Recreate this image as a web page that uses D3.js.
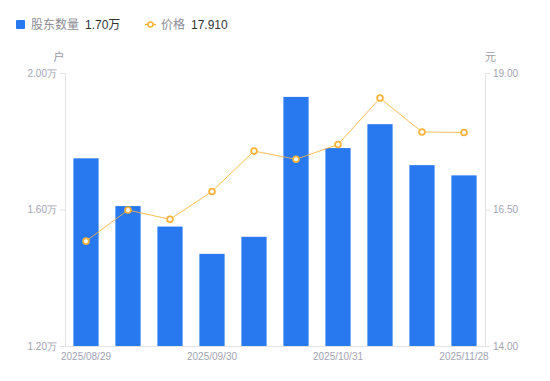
<!DOCTYPE html>
<html lang="zh">
<head>
<meta charset="UTF-8" />
<title>股东数量与价格</title>
<script src="https://cdn.jsdelivr.net/npm/d3@7"></script>
<style>
    html, body { margin: 0; padding: 0; background: #fff; }
    svg { display: block; font-family: "Liberation Sans", Arial, "Noto Sans CJK SC", sans-serif; }
</style>
</head>
<body>
<div id="chart"></div>
<script>
// data
const dates = ["2025/08/29", "2025/09/10", "2025/09/19", "2025/09/30", "2025/10/10",
               "2025/10/20", "2025/10/31", "2025/11/10", "2025/11/20", "2025/11/28"];
const holders = [1.75, 1.61, 1.55, 1.47, 1.52, 1.93, 1.78, 1.85, 1.73, 1.70];   // 万户
const prices = [15.92, 16.49, 16.32, 16.83, 17.57, 17.42, 17.69, 18.54, 17.92, 17.91];
const leftTicks = [1.2, 1.6, 2.0];
const rightTicks = [14, 16.5, 19];
const shownDates = ["2025/08/29", "2025/09/30", "2025/10/31", "2025/11/28"];

const width = 550, height = 381;
const margin = { top: 73, right: 65, bottom: 35, left: 65 };
const barColor = "#2878f0";
const lineColor = "#f8b33a";
const tickColor = "#a3a3b3";
const axisColor = "#e3e3e3";

const svg = d3.select("#chart").append("svg")
    .attr("width", width)
    .attr("height", height);

const x = d3.scaleBand()
    .domain(dates)
    .range([margin.left, width - margin.right])
    .paddingInner(0.4)
    .paddingOuter(0.2);

const yLeft = d3.scaleLinear().domain([1.2, 2.0]).range([height - margin.bottom, margin.top]);
const yRight = d3.scaleLinear().domain([14, 19]).range([height - margin.bottom, margin.top]);

// axes
const leftAxis = svg.append("g")
    .attr("transform", `translate(${margin.left},0)`)
    .call(d3.axisLeft(yLeft).tickValues(leftTicks).tickSize(5).tickPadding(3)
        .tickFormat(d => d3.format(".2f")(d) + "万"));

const rightAxis = svg.append("g")
    .attr("transform", `translate(${width - margin.right},0)`)
    .call(d3.axisRight(yRight).tickValues(rightTicks).tickSize(5).tickPadding(3)
        .tickFormat(d3.format(".2f")));

const bottomAxis = svg.append("g")
    .attr("transform", `translate(0,${height - margin.bottom})`)
    .call(d3.axisBottom(x).tickValues(shownDates).tickSize(0).tickPadding(7));

[leftAxis, rightAxis, bottomAxis].forEach(g => {
    g.selectAll("path, line").attr("stroke", axisColor);
    g.selectAll("text").attr("fill", tickColor).attr("font-size", 10);
});
bottomAxis.select(".domain").attr("d", `M${margin.left},0.5H${width - margin.right}`);

// unit labels
svg.append("text").attr("x", 59).attr("y", 61).attr("text-anchor", "middle")
    .attr("font-size", 11).attr("fill", "#9a9aa8").text("户");
svg.append("text").attr("x", 485).attr("y", 61)
    .attr("font-size", 11).attr("fill", "#9a9aa8").text("元");

// bars
svg.append("g").selectAll("rect")
    .data(holders)
    .join("rect")
    .attr("x", (d, i) => x(dates[i]))
    .attr("y", d => yLeft(d))
    .attr("width", x.bandwidth())
    .attr("height", d => yLeft(1.2) - yLeft(d))
    .attr("fill", barColor);

// price line
const line = d3.line()
    .x((d, i) => x(dates[i]) + x.bandwidth() / 2)
    .y(d => yRight(d));

svg.append("path")
    .datum(prices)
    .attr("d", line)
    .attr("fill", "none")
    .attr("stroke", lineColor)
    .attr("stroke-opacity", 0.85)
    .attr("stroke-width", 1);

svg.append("g").selectAll("circle")
    .data(prices)
    .join("circle")
    .attr("cx", (d, i) => x(dates[i]) + x.bandwidth() / 2)
    .attr("cy", d => yRight(d))
    .attr("r", 2.9)
    .attr("fill", "#fff")
    .attr("stroke", lineColor)
    .attr("stroke-width", 1.8);

// legend
const legend = svg.append("g").attr("font-size", 12);
legend.append("rect").attr("x", 16).attr("y", 20).attr("width", 9).attr("height", 9)
    .attr("rx", 1).attr("fill", barColor);
legend.append("text").attr("x", 31).attr("y", 29).attr("fill", "#8c8c96").text("股东数量");
legend.append("text").attr("x", 85).attr("y", 29).attr("fill", "#333").text(d3.format(".2f")(holders[holders.length - 1]) + "万");

legend.append("line").attr("x1", 145).attr("x2", 156).attr("y1", 24.5).attr("y2", 24.5)
    .attr("stroke", lineColor).attr("stroke-width", 1.5);
legend.append("circle").attr("cx", 150.5).attr("cy", 24.5).attr("r", 2.5)
    .attr("fill", "#fff").attr("stroke", lineColor).attr("stroke-width", 1.5);
legend.append("text").attr("x", 161).attr("y", 29).attr("fill", "#8c8c96").text("价格");
legend.append("text").attr("x", 191).attr("y", 29).attr("fill", "#333").text(d3.format(".3f")(prices[prices.length - 1]));
</script>
</body>
</html>
